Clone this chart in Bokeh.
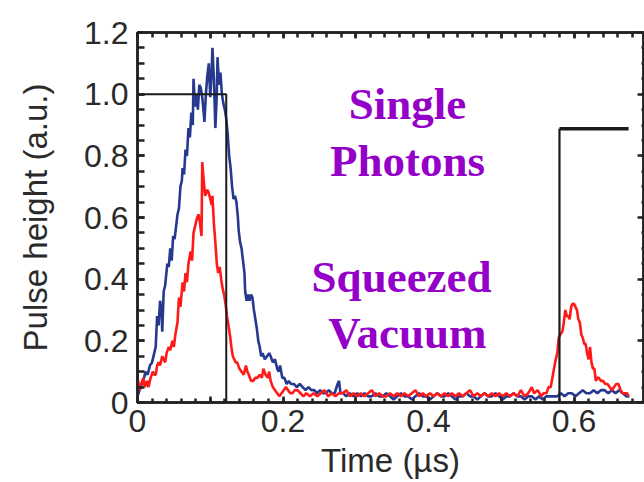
from bokeh.plotting import figure
from bokeh.models import (LinearAxis, FixedTicker, CustomJSTickFormatter, Range1d, Label)
from bokeh.embed import file_html
from bokeh.resources import INLINE

# ---------------- data ----------------
blue_t = [0.000, 0.003, 0.006, 0.009, 0.011, 0.014, 0.017, 0.020, 0.023, 0.025, 0.027, 0.029,
          0.031, 0.033, 0.034, 0.036, 0.038, 0.041, 0.043, 0.045, 0.047, 0.049, 0.051, 0.053,
          0.055, 0.057, 0.059, 0.061, 0.062, 0.064, 0.066, 0.068, 0.070, 0.072, 0.074, 0.076,
          0.077, 0.079, 0.081, 0.083, 0.085, 0.087, 0.089, 0.091, 0.092, 0.094, 0.096, 0.098,
          0.100, 0.102, 0.103, 0.105, 0.107, 0.109, 0.110, 0.112, 0.114, 0.116, 0.118, 0.120,
          0.122, 0.124, 0.126, 0.128, 0.130, 0.132, 0.134, 0.136, 0.138, 0.139, 0.141, 0.143,
          0.145, 0.147, 0.148, 0.150, 0.152, 0.154, 0.156, 0.158, 0.160, 0.162, 0.164, 0.166,
          0.168, 0.170, 0.172, 0.175, 0.178, 0.181, 0.183, 0.186, 0.189, 0.192, 0.194, 0.196,
          0.199, 0.202, 0.205, 0.208, 0.211, 0.215, 0.219, 0.223, 0.227, 0.231, 0.235, 0.239,
          0.243, 0.247, 0.251, 0.255, 0.259, 0.263, 0.267, 0.271, 0.275, 0.277, 0.279, 0.283,
          0.287, 0.292, 0.297, 0.302, 0.307, 0.312, 0.317, 0.322, 0.327, 0.332, 0.337, 0.342,
          0.347, 0.352, 0.357, 0.362, 0.367, 0.372, 0.377, 0.382, 0.387, 0.392, 0.397, 0.402,
          0.407, 0.412, 0.417, 0.422, 0.427, 0.432, 0.437, 0.442, 0.447, 0.452, 0.457, 0.462,
          0.467, 0.472, 0.477, 0.482, 0.487, 0.492, 0.497, 0.502, 0.507, 0.512, 0.517, 0.522,
          0.527, 0.532, 0.537, 0.542, 0.547, 0.552, 0.557, 0.562, 0.567, 0.572, 0.577, 0.582,
          0.587, 0.592, 0.597, 0.602, 0.607, 0.612, 0.617, 0.622, 0.627, 0.632, 0.637, 0.642,
          0.647, 0.652, 0.657, 0.662, 0.667, 0.672, 0.676]
blue_v = [0.02, 0.04, 0.06, 0.08, 0.10, 0.09, 0.12, 0.13, 0.16, 0.18, 0.28, 0.25,
          0.33, 0.30, 0.23, 0.36, 0.38, 0.45, 0.44, 0.50, 0.46, 0.54, 0.53, 0.57,
          0.61, 0.63, 0.70, 0.72, 0.76, 0.74, 0.82, 0.80, 0.89, 0.86, 0.94, 0.90,
          1.05, 0.96, 1.00, 0.95, 1.03, 1.02, 0.99, 0.94, 0.91, 1.00, 1.06, 1.10,
          0.99, 1.08, 1.15, 1.05, 0.89, 1.00, 1.12, 1.03, 1.07, 1.00, 0.97, 0.95,
          0.92, 0.87, 0.80, 0.76, 0.70, 0.66, 0.67, 0.65, 0.60, 0.56, 0.52, 0.50,
          0.46, 0.42, 0.36, 0.33, 0.35, 0.33, 0.35, 0.34, 0.30, 0.27, 0.24, 0.20,
          0.18, 0.15, 0.16, 0.14, 0.15, 0.16, 0.15, 0.13, 0.14, 0.11, 0.10, 0.12,
          0.08, 0.08, 0.06, 0.07, 0.06, 0.06, 0.05, 0.06, 0.05, 0.04, 0.05, 0.04,
          0.04, 0.03, 0.04, 0.03, 0.03, 0.04, 0.03, 0.03, 0.06, 0.07, 0.03, 0.03,
          0.02, 0.03, 0.02, 0.03, 0.02, 0.03, 0.02, 0.02, 0.03, 0.02, 0.02, 0.03,
          0.02, 0.01, 0.02, 0.03, 0.02, 0.02, 0.01, 0.02, 0.03, 0.02, 0.02, 0.01,
          0.02, 0.03, 0.02, 0.02, 0.03, 0.02, 0.01, 0.02, 0.02, 0.03, 0.02, 0.02,
          0.01, 0.02, 0.03, 0.02, 0.02, 0.03, 0.02, 0.01, 0.02, 0.02, 0.03, 0.02,
          0.02, 0.01, 0.02, 0.02, 0.01, 0.02, 0.01, 0.02, 0.02, 0.02, 0.02, 0.03,
          0.02, 0.03, 0.03, 0.02, 0.03, 0.04, 0.03, 0.03, 0.04, 0.03, 0.04, 0.04,
          0.03, 0.04, 0.03, 0.04, 0.03, 0.02, 0.02]

red_t = [0.000, 0.003, 0.005, 0.008, 0.010, 0.013, 0.015, 0.018, 0.021, 0.023, 0.025, 0.027,
         0.029, 0.031, 0.034, 0.036, 0.038, 0.040, 0.043, 0.045, 0.048, 0.050, 0.052, 0.055,
         0.057, 0.059, 0.062, 0.064, 0.066, 0.068, 0.070, 0.073, 0.075, 0.077, 0.080, 0.082,
         0.084, 0.086, 0.088, 0.089, 0.091, 0.093, 0.096, 0.098, 0.100, 0.102, 0.103, 0.105,
         0.107, 0.109, 0.111, 0.113, 0.115, 0.117, 0.119, 0.121, 0.123, 0.125, 0.127, 0.129,
         0.131, 0.133, 0.135, 0.137, 0.140, 0.143, 0.146, 0.149, 0.151, 0.153, 0.156, 0.159,
         0.162, 0.165, 0.168, 0.171, 0.173, 0.176, 0.179, 0.181, 0.183, 0.186, 0.189, 0.192,
         0.195, 0.198, 0.201, 0.204, 0.207, 0.210, 0.213, 0.216, 0.220, 0.224, 0.228,
         0.232, 0.237, 0.242, 0.247, 0.252, 0.257, 0.262, 0.267, 0.272, 0.277, 0.282, 0.287,
         0.292, 0.297, 0.302, 0.307, 0.312, 0.317, 0.322, 0.327, 0.332, 0.337, 0.342, 0.347,
         0.352, 0.357, 0.362, 0.367, 0.372, 0.377, 0.382, 0.387, 0.392, 0.397, 0.402, 0.407,
         0.412, 0.417, 0.422, 0.427, 0.432, 0.437, 0.442, 0.447, 0.452, 0.457, 0.462, 0.467,
         0.472, 0.477, 0.482, 0.487, 0.492, 0.497, 0.502, 0.507, 0.512, 0.517, 0.522, 0.527,
         0.532, 0.537, 0.542, 0.545, 0.550, 0.555, 0.558, 0.562, 0.565, 0.568, 0.571, 0.574,
         0.577, 0.579, 0.581, 0.584, 0.586, 0.588, 0.590, 0.592, 0.594, 0.596, 0.598, 0.600,
         0.602, 0.604, 0.606, 0.608, 0.610, 0.612, 0.614, 0.616, 0.618, 0.620, 0.622, 0.624,
         0.626, 0.628, 0.630, 0.632, 0.634, 0.637, 0.640, 0.643, 0.646, 0.649, 0.652, 0.655,
         0.658, 0.661, 0.664, 0.667, 0.670, 0.673, 0.675]
red_v = [0.08, 0.04, 0.06, 0.08, 0.05, 0.07, 0.05, 0.08, 0.10, 0.09, 0.09, 0.12,
         0.13, 0.12, 0.15, 0.14, 0.13, 0.16, 0.18, 0.17, 0.20, 0.18, 0.22, 0.26,
         0.34, 0.31, 0.39, 0.36, 0.42, 0.39, 0.45, 0.49, 0.46, 0.55, 0.58, 0.60,
         0.61, 0.58, 0.54, 0.78, 0.72, 0.67, 0.69, 0.68, 0.66, 0.64, 0.67, 0.58,
         0.52, 0.45, 0.42, 0.44, 0.40, 0.37, 0.35, 0.32, 0.28, 0.25, 0.22, 0.18,
         0.15, 0.14, 0.13, 0.13, 0.11, 0.10, 0.09, 0.12, 0.10, 0.09, 0.07, 0.07,
         0.08, 0.08, 0.09, 0.08, 0.11, 0.09, 0.08, 0.10, 0.07, 0.05, 0.04, 0.03,
         0.02, 0.03, 0.04, 0.05, 0.04, 0.03, 0.03, 0.04, 0.04, 0.03, 0.02,
         0.03, 0.02, 0.03, 0.02, 0.03, 0.04, 0.02, 0.03, 0.02, 0.03, 0.03, 0.04,
         0.02, 0.03, 0.02, 0.03, 0.02, 0.03, 0.04, 0.02, 0.03, 0.02, 0.02, 0.03,
         0.02, 0.03, 0.02, 0.03, 0.02, 0.03, 0.04, 0.02, 0.03, 0.02, 0.03, 0.02,
         0.03, 0.02, 0.03, 0.02, 0.03, 0.02, 0.03, 0.02, 0.03, 0.04, 0.02, 0.03,
         0.02, 0.03, 0.02, 0.03, 0.02, 0.03, 0.02, 0.03, 0.02, 0.03, 0.02, 0.04,
         0.02, 0.03, 0.05, 0.03, 0.04, 0.02, 0.03, 0.03, 0.05, 0.05, 0.09, 0.13,
         0.16, 0.21, 0.22, 0.23, 0.26, 0.30, 0.28, 0.28, 0.27, 0.31, 0.32, 0.32,
         0.31, 0.30, 0.27, 0.26, 0.22, 0.21, 0.19, 0.19, 0.16, 0.14, 0.18, 0.13,
         0.11, 0.11, 0.07, 0.08, 0.08, 0.07, 0.07, 0.06, 0.06, 0.05, 0.04, 0.05,
         0.06, 0.06, 0.04, 0.03, 0.03, 0.03, 0.02]

gate1_t = [0.0, 0.122, 0.122]
gate1_v = [1.0, 1.0, 0.0]
gate2_vert_t = [0.580, 0.580]
gate2_vert_v = [0.0, 0.888]
gate2_top_t = [0.580, 0.675]
gate2_top_v = [0.888, 0.888]

y_ticks = [0, 0.2, 0.4, 0.6, 0.8, 1.0, 1.2]
x_ticks = [0, 0.1, 0.2, 0.3, 0.4, 0.5, 0.6]

# ---------------- figure ----------------
p = figure(width=644, height=482, output_backend="svg", toolbar_location=None,
           x_range=Range1d(0, 0.6955), y_range=Range1d(0, 1.2),
           x_axis_location=None, y_axis_location=None,
           min_border_left=137, min_border_right=1, min_border_top=32, min_border_bottom=80)
p.background_fill_color = "white"
p.border_fill_color = "white"
p.outline_line_color = "#222222"
p.outline_line_width = 2.5
p.xgrid.visible = False
p.ygrid.visible = False

axis_col = "#222222"
text_col = "#2a2a2a"
y_minor = [i * 0.05 for i in range(25)]
x_minor = [i * 0.02 for i in range(36)]
blank = CustomJSTickFormatter(code='return "";')

def style(ax, major_in, minor_in):
    ax.axis_line_color = axis_col
    ax.axis_line_width = 2.5
    ax.major_tick_in = major_in
    ax.major_tick_out = 0
    ax.minor_tick_in = minor_in
    ax.minor_tick_out = 0
    ax.major_tick_line_color = axis_col
    ax.minor_tick_line_color = axis_col
    ax.major_tick_line_width = 2.5
    ax.minor_tick_line_width = 2.5

left = LinearAxis(ticker=FixedTicker(ticks=y_ticks, minor_ticks=y_minor),
                  formatter=CustomJSTickFormatter(code='return tick == 0 ? "0" : tick.toFixed(1);'),
                  axis_label="Pulse height (a.u.)")
style(left, 7, 7)
left.major_label_text_font = "Liberation Sans"
left.major_label_text_font_size = "32px"
left.major_label_text_color = text_col
left.major_label_standoff = 9
left.axis_label_text_font = "Liberation Sans"
left.axis_label_text_font_style = "normal"
left.axis_label_text_font_size = "33px"
left.axis_label_text_color = text_col
left.axis_label_standoff = 27
p.add_layout(left, "left")

bottom = LinearAxis(ticker=FixedTicker(ticks=x_ticks, minor_ticks=x_minor),
                    formatter=CustomJSTickFormatter(code='''
const r = Math.round(tick * 10);
if (r % 2 != 0) { return ""; }
return r == 0 ? "0" : tick.toFixed(1);'''),
                    axis_label="Time (\u00b5s)")
style(bottom, 6, 4)
bottom.major_label_text_font = "Liberation Sans"
bottom.major_label_text_font_size = "32px"
bottom.major_label_text_color = text_col
bottom.major_label_standoff = 7
bottom.axis_label_text_font = "Liberation Sans"
bottom.axis_label_text_font_style = "normal"
bottom.axis_label_text_font_size = "33px"
bottom.axis_label_text_color = text_col
bottom.axis_label_standoff = 7
p.add_layout(bottom, "below")

top = LinearAxis(ticker=FixedTicker(ticks=x_ticks, minor_ticks=x_minor), formatter=blank)
style(top, 6, 5)
top.major_label_standoff = 0
p.add_layout(top, "above")

right = LinearAxis(ticker=FixedTicker(ticks=y_ticks, minor_ticks=y_minor), formatter=blank)
style(right, 6, 2)
right.major_label_standoff = 0
p.add_layout(right, "right")

# traces
p.line(blue_t, blue_v, line_color="#26398f", line_width=2.6)
p.line(red_t, red_v, line_color="#ff1a1a", line_width=2.6)

# gate lines
p.line(gate1_t, gate1_v, line_color="#1a1a1a", line_width=2)
p.line(gate2_vert_t, gate2_vert_v, line_color="#1a1a1a", line_width=2.2)
p.line(gate2_top_t, gate2_top_v, line_color="#1a1a1a", line_width=3.5)

# annotations
purple = "#9500c8"
for txt, x, y in [("Single", 0.371, 0.969), ("Photons", 0.371, 0.783),
                  ("Squeezed", 0.363, 0.408), ("Vacuum", 0.371, 0.225)]:
    p.add_layout(Label(x=x, y=y, text=txt, text_align="center", text_baseline="alphabetic",
                       text_font="Liberation Serif", text_font_style="bold",
                       text_font_size="45px", text_color=purple))

open("out.html", "w").write(file_html(p, INLINE))
